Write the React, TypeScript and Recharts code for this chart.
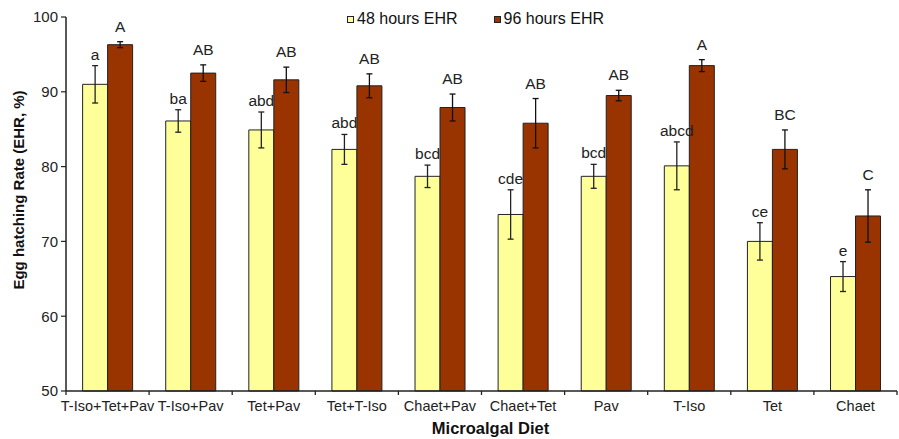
import { BarChart, Bar, XAxis, YAxis, ErrorBar, LabelList, Legend } from "recharts";

const diets = ["T-Iso+Tet+Pav", "T-Iso+Pav", "Tet+Pav", "Tet+T-Iso", "Chaet+Pav", "Chaet+Tet", "Pav", "T-Iso", "Tet", "Chaet"];
const ehr48 = [91.0, 86.1, 84.9, 82.3, 78.7, 73.6, 78.7, 80.1, 70.0, 65.3];
const err48 = [2.5, 1.5, 2.4, 2.0, 1.5, 3.3, 1.6, 3.2, 2.5, 2.0];
const ehr96 = [96.3, 92.5, 91.6, 90.8, 87.9, 85.8, 89.5, 93.5, 82.3, 73.4];
const err96 = [0.4, 1.1, 1.7, 1.6, 1.8, 3.3, 0.7, 0.8, 2.6, 3.5];
const letters48 = ["a", "ba", "abd", "abd", "bcd", "cde", "bcd", "abcd", "ce", "e"];
const letters96 = ["A", "AB", "AB", "AB", "AB", "AB", "AB", "A", "BC", "C"];
const yTicks = [50, 60, 70, 80, 90, 100];

const data = diets.map((d, i) => ({
  diet: d,
  h48: ehr48[i],
  e48: err48[i],
  h96: ehr96[i],
  e96: err96[i],
}));

const FONT = "'Liberation Sans', Arial, sans-serif";
const YELLOW = "#FFFF99";
const RED = "#993300";

// letter above the error bar cap
const makeLetter = (values: number[], errs: number[], letters: string[], gap: number) => (props: any) => {
  const { x, y, width, height, index } = props;
  const v = values[index];
  const pxPerUnit = height / (v - 50);
  const top = y - errs[index] * pxPerUnit;
  return (
    <text x={x + width / 2} y={top - gap} textAnchor="middle" fontSize={15.5} fill="#222" fontFamily={FONT}>
      {letters[index]}
    </text>
  );
};

const YTitle = (props: any) => {
  const { viewBox } = props;
  const cx = viewBox.x + 18;
  const cy = viewBox.y + viewBox.height / 2 - 14;
  return (
    <text x={cx} y={cy} transform={`rotate(-90 ${cx} ${cy})`} textAnchor="middle" dominantBaseline="central"
      fontSize={15} fontWeight="bold" fill="#111" fontFamily={FONT}>
      Egg hatching Rate (EHR, %)
    </text>
  );
};

// category label plus tick marks on the category boundaries
const DietTick = (props: any) => {
  const { x, y, payload, index, width, visibleTicksCount } = props;
  const half = width / visibleTicksCount / 2;
  const axisY = y - 10;
  return (
    <g>
      <line x1={x - half} x2={x - half} y1={axisY} y2={axisY + 4} stroke="#222" strokeWidth={1.3} />
      {index === visibleTicksCount - 1 && (
        <line x1={x + half} x2={x + half} y1={axisY} y2={axisY + 4} stroke="#222" strokeWidth={1.3} />
      )}
      <text x={x} y={y} dy="0.71em" textAnchor="middle" fontSize={14.5} fill="#222" fontFamily={FONT}>
        {payload.value}
      </text>
    </g>
  );
};

const LegendBox = () => (
  <div style={{ display: "flex", justifyContent: "center", gap: 36, fontFamily: FONT, fontSize: 16, color: "#111", lineHeight: "18px" }}>
    {[
      { label: "48 hours EHR", color: YELLOW },
      { label: "96 hours EHR", color: RED },
    ].map((it) => (
      <div key={it.label} style={{ display: "flex", alignItems: "center" }}>
        <span style={{ width: 5, height: 5, background: it.color, border: "1px solid #222", marginRight: 3 }} />
        <span>{it.label}</span>
      </div>
    ))}
  </div>
);

export default function App() {
  return (
    <div style={{ position: "absolute", left: 0, top: 0, background: "#fff" }}>
      <BarChart
        width={899}
        height={439}
        data={data}
        margin={{ top: 17, right: 2, bottom: 0, left: 0 }}
        barCategoryGap="20%"
        barGap={0}
      >
        <XAxis
          dataKey="diet"
          tickLine={false}
          axisLine={{ stroke: "#222", strokeWidth: 1.5 }}
          tickSize={5}
          tickMargin={5}
          interval={0}
          height={48}
          tick={<DietTick />}
          label={{ value: "Microalgal Diet", position: "insideBottom", offset: 5, dx: 9, fontSize: 16.5, fontWeight: "bold", fill: "#111", fontFamily: FONT }}
        />
        <YAxis
          domain={[50, 100]}
          ticks={yTicks}
          width={66}
          tickSize={5}
          tickMargin={3}
          axisLine={{ stroke: "#222", strokeWidth: 1.5 }}
          tickLine={{ stroke: "#222", strokeWidth: 1.2 }}
          tick={{ fill: "#222", fontSize: 15, fontFamily: FONT }}
          label={<YTitle />}
        />
        <Legend
          verticalAlign="middle"
          align="center"
          wrapperStyle={{ top: 10, left: 60, width: 831 }}
          content={<LegendBox />}
        />
        <Bar dataKey="h48" fill={YELLOW} stroke="#222" strokeWidth={1} isAnimationActive={false}>
          <ErrorBar dataKey="e48" width={3} stroke="#222" strokeWidth={1.3} />
          <LabelList dataKey="h48" content={makeLetter(ehr48, err48, letters48, 6)} />
        </Bar>
        <Bar dataKey="h96" fill={RED} stroke="#222" strokeWidth={1} isAnimationActive={false}>
          <ErrorBar dataKey="e96" width={3} stroke="#111" strokeWidth={1.3} />
          <LabelList dataKey="h96" content={makeLetter(ehr96, err96, letters96, 10)} />
        </Bar>
      </BarChart>
    </div>
  );
}
